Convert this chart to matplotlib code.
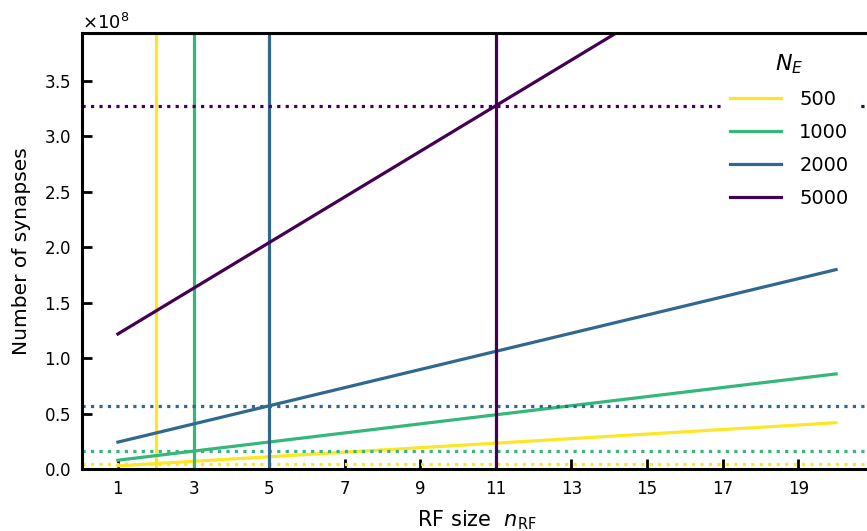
import numpy as np
import matplotlib.pyplot as plt
from matplotlib.ticker import ScalarFormatter

# number of excitatory neurons per network
n_exc = [500, 1000, 2000, 5000]
colors = ["#fde725", "#35b779", "#31688e", "#440154"]

# RF sizes at which each line was evaluated (line ends)
rf_ends = [1, 20]
# synapse counts at rf = 1 and rf = 20
syn_start = [0.031e8, 0.082e8, 0.245e8, 1.22e8]
syn_end = [0.42e8, 0.86e8, 1.80e8, 5.13e8]

# chosen RF size for each network and the synapse count there
rf_chosen = [2, 3, 5, 11]
syn_chosen = [0.051e8, 0.164e8, 0.573e8, 3.275e8]

fig = plt.figure(figsize=(8.67, 5.31), dpi=100)
ax = fig.add_axes([82 / 867, 1 - 469.3 / 531, 790 / 867, 436 / 531])

for ne, c, y0, y1, xc, yc in zip(n_exc, colors, syn_start, syn_end, rf_chosen, syn_chosen):
    ax.plot(rf_ends, [y0, y1], color=c, lw=2.3, label=str(ne))
    ax.axvline(xc, color=c, lw=2.3)
    ax.axhline(yc, color=c, lw=2.3, ls=":")

ax.set_xlim(0.05, 20.95)
ax.set_ylim(0, 1.2 * max(syn_chosen))
ax.set_xticks(np.arange(1, 20, 2))
ax.set_yticks(np.arange(0, 3.6e8, 0.5e8))

fmt = ScalarFormatter(useMathText=True)
ax.yaxis.set_major_formatter(fmt)

ax.set_xlabel(r"RF size  $n_{\mathrm{RF}}$", fontsize=15, labelpad=7)
ax.set_ylabel("Number of synapses", fontsize=14.5, labelpad=9)
ax.tick_params(direction="in", length=7, width=2, labelsize=12, pad=8)
ax.yaxis.get_offset_text().set_fontsize(13)
for side in ["left", "bottom", "top", "right"]:
    ax.spines[side].set_linewidth(2.2)

leg = ax.legend(title=r"$N_E$", fontsize=14, title_fontsize=16, loc="upper right",
                bbox_to_anchor=(866 / 867, 1 - 35 / 531), bbox_transform=fig.transFigure,
                frameon=True, framealpha=1, edgecolor="none", fancybox=False,
                handlelength=2.6, handletextpad=0.95, labelspacing=0.72)

fig.savefig("out.png", dpi=100)
